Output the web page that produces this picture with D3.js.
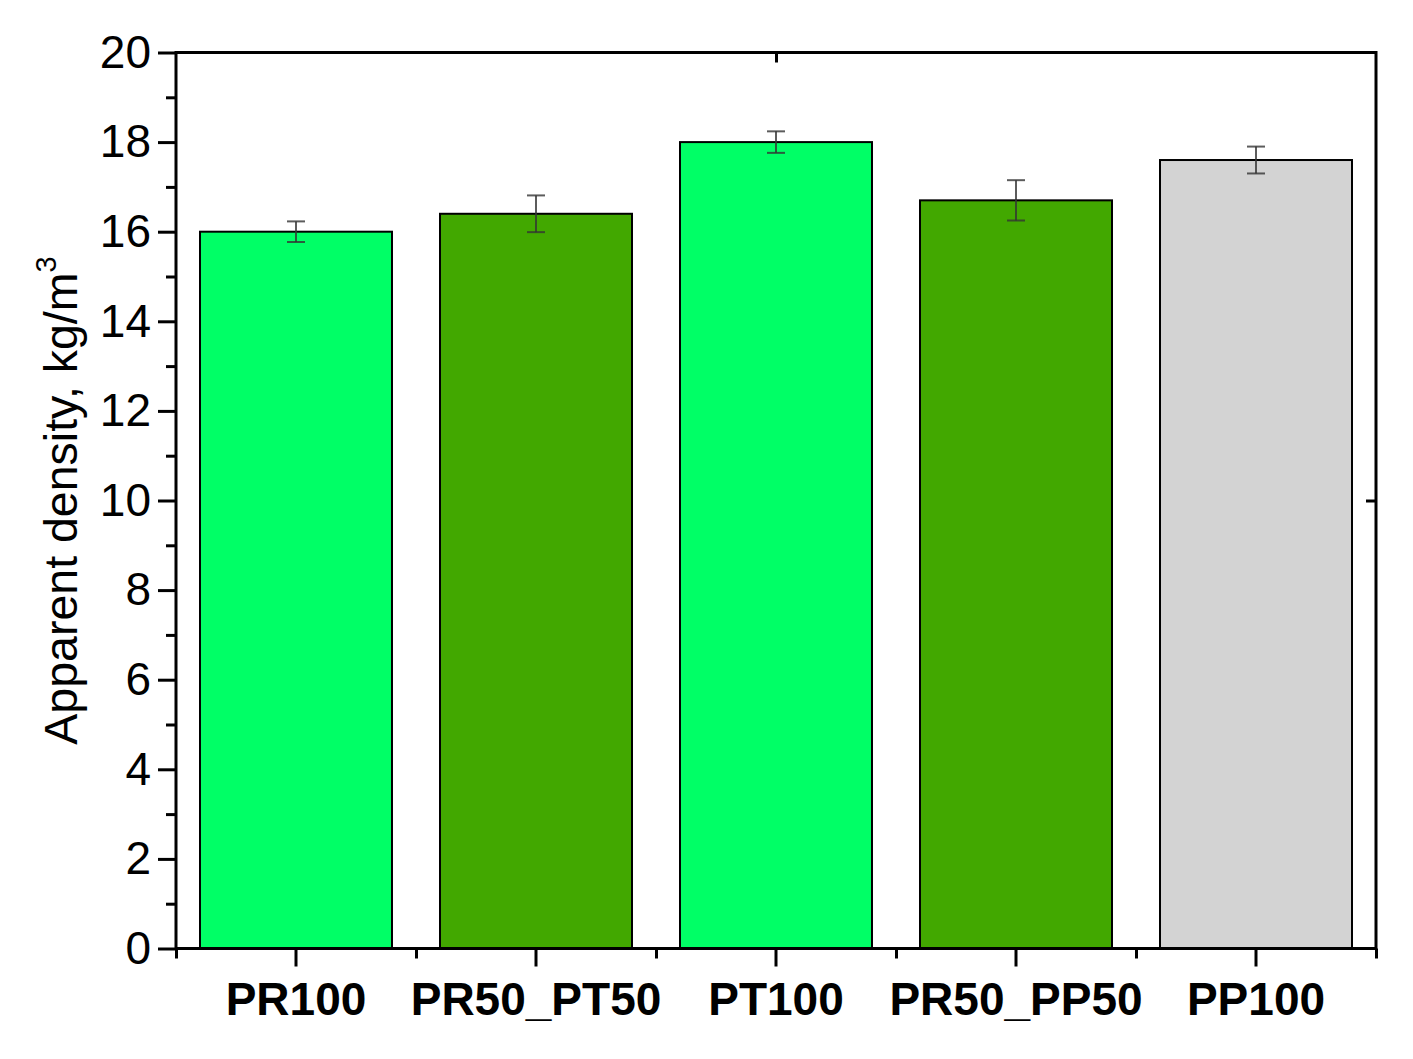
<!DOCTYPE html>
<html>
<head>
<meta charset="utf-8">
<script src="https://cdn.jsdelivr.net/npm/d3@7"></script>
<style>
  html, body { margin: 0; padding: 0; background: #fff; }
  svg { display: block; }
  text { font-family: "Liberation Sans", Arial, sans-serif; }
</style>
</head>
<body>
<svg id="chart" width="1413" height="1059"></svg>
<script>
const categories = ["PR100", "PR50_PT50", "PT100", "PR50_PP50", "PP100"];
const values = [16.0, 16.4, 18.0, 16.7, 17.6];
const errors = [0.23, 0.41, 0.24, 0.45, 0.30];
const barColors = ["#00FF66", "#42A800", "#00FF66", "#42A800", "#D3D3D3"];
const yMajorTicks = [0, 2, 4, 6, 8, 10, 12, 14, 16, 18, 20];
const yMinorTicks = [1, 3, 5, 7, 9, 11, 13, 15, 17, 19];
const yTitle = "Apparent density, kg/m";
const yTitleSup = "3";

const svg = d3.select("#chart");
const pLeft = 176, pRight = 1376, pTop = 52.5, pBottom = 948.5;

const x = d3.scaleBand().domain(categories).range([pLeft, pRight]).paddingInner(0.2).paddingOuter(0.1);
const y = d3.scaleLinear().domain([0, 20]).range([pBottom, pTop]);

const data = categories.map((c, i) => ({ c, v: values[i], e: errors[i], col: barColors[i] }));

// bars
svg.append("g").selectAll("rect").data(data).join("rect")
  .attr("x", d => x(d.c))
  .attr("y", d => y(d.v))
  .attr("width", x.bandwidth())
  .attr("height", d => y(0) - y(d.v))
  .attr("fill", d => d.col)
  .attr("stroke", "#000")
  .attr("stroke-width", 2);

// error bars
const eg = svg.append("g").attr("stroke", "#333").attr("stroke-opacity", 0.8).attr("stroke-width", 2);
data.forEach(d => {
  const cx = x(d.c) + x.bandwidth() / 2;
  eg.append("line").attr("x1", cx).attr("x2", cx).attr("y1", y(d.v + d.e)).attr("y2", y(d.v - d.e));
  eg.append("line").attr("x1", cx - 9).attr("x2", cx + 9).attr("y1", y(d.v + d.e)).attr("y2", y(d.v + d.e));
  eg.append("line").attr("x1", cx - 9).attr("x2", cx + 9).attr("y1", y(d.v - d.e)).attr("y2", y(d.v - d.e));
});

function styleAxis(g) {
  g.selectAll(".domain").remove();
  g.selectAll(".tick line").attr("stroke", "#000").attr("stroke-width", 3);
}

// Y axis major
const yAxisMajor = svg.append("g").attr("transform", `translate(${pLeft},0)`)
  .call(d3.axisLeft(y).tickValues(yMajorTicks).tickSize(18).tickPadding(7).tickFormat(d3.format("d")));
styleAxis(yAxisMajor);
yAxisMajor.selectAll("text").attr("font-size", 46).attr("fill", "#000");
// Y axis minor
const yAxisMinor = svg.append("g").attr("transform", `translate(${pLeft},0)`)
  .call(d3.axisLeft(y).tickValues(yMinorTicks).tickSize(10).tickFormat(""));
styleAxis(yAxisMinor);

// X axis major (category centers)
const xAxis = svg.append("g").attr("transform", `translate(0,${pBottom})`)
  .call(d3.axisBottom(x).tickSize(18).tickPadding(16));
styleAxis(xAxis);
xAxis.selectAll("text").attr("font-size", 46).attr("font-weight", "bold").attr("fill", "#000");

// X axis minor (band boundaries)
const xb = d3.scaleLinear().domain([0, categories.length]).range([pLeft, pRight]);
const xMinor = svg.append("g").attr("transform", `translate(0,${pBottom})`)
  .call(d3.axisBottom(xb).tickValues(d3.range(categories.length + 1)).tickSize(10).tickFormat(""));
styleAxis(xMinor);

// Top axis with single inward tick at centre
const topAxis = svg.append("g").attr("transform", `translate(0,${pTop})`)
  .call(d3.axisTop(xb).tickValues([categories.length / 2]).tickSize(-10).tickFormat(""));
styleAxis(topAxis);

// Right axis with single inward tick at 10
const rightAxis = svg.append("g").attr("transform", `translate(${pRight},0)`)
  .call(d3.axisRight(y).tickValues([10]).tickSize(-10).tickFormat(""));
styleAxis(rightAxis);

// frame
svg.append("rect").attr("x", pLeft).attr("y", pTop).attr("width", pRight - pLeft).attr("height", pBottom - pTop)
  .attr("fill", "none").attr("stroke", "#000").attr("stroke-width", 3);

// Y title
const t = svg.append("text")
  .attr("transform", `translate(77,${(pTop + pBottom) / 2}) rotate(-90)`)
  .attr("text-anchor", "middle")
  .attr("font-size", 46.5)
  .attr("fill", "#000");
t.append("tspan").text(yTitle);
t.append("tspan").attr("font-size", 29).attr("dy", -21).text(yTitleSup);
</script>
</body>
</html>
